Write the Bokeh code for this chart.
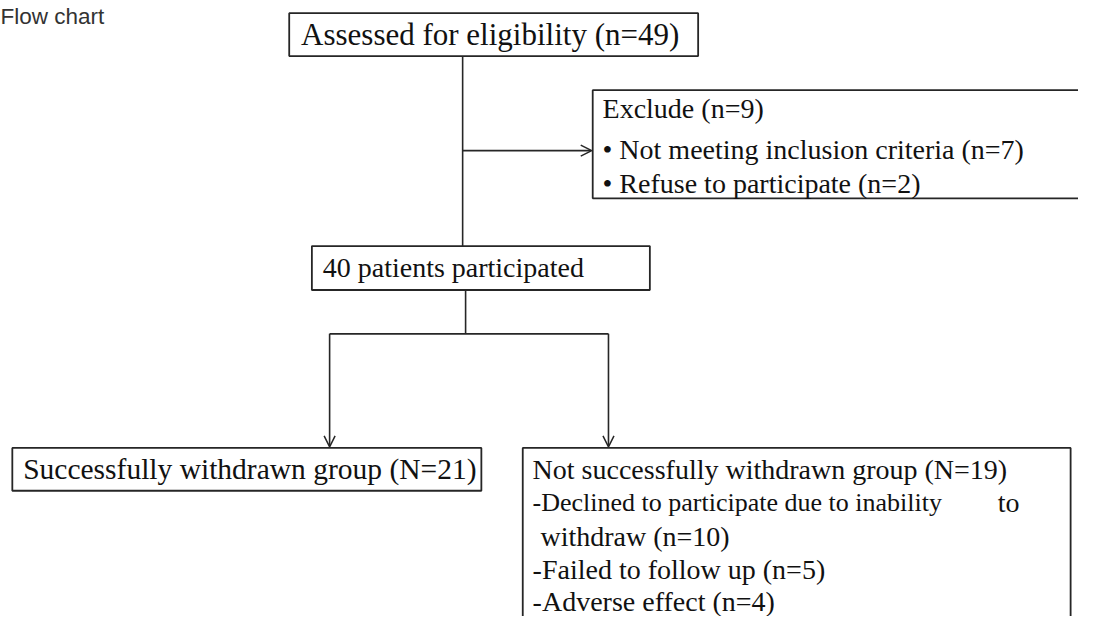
from bokeh.plotting import figure
from bokeh.models import Range1d, Arrow, OpenHead, ColumnDataSource
from bokeh.core.properties import value
from bokeh.embed import file_html
from bokeh.resources import INLINE

# ---- content ----
title_text = "Flow chart"

box_names = ["assessed", "exclude", "participated", "success", "not_success"]
box_left = [293, 601, 316, 12, 530]
box_right = [708, 1120, 659, 488, 1086]
box_top = [13, 92, 252, 459, 459]
box_bottom = [57, 203, 297, 503, 660]

text_labels = [
    "Assessed for eligibility (n=49)",
    "Exclude (n=9)",
    "\u2022 Not meeting inclusion criteria (n=7)",
    "\u2022 Refuse to participate (n=2)",
    "40 patients participated",
    "Successfully withdrawn group (N=21)",
    "Not successfully withdrawn group (N=19)",
    "-Declined to participate due to inability",
    "to",
    "withdraw (n=10)",
    "-Failed to follow up (n=5)",
    "-Adverse effect (n=4)",
]
text_x = [305, 611, 611, 611, 327, 23, 540, 540, 1012, 548, 540, 540]
text_y = [35, 111, 153, 188, 274, 481, 481, 515, 515, 550, 584, 617]
text_size = ["31px", "28px", "28px", "28px", "28px", "29.5px",
             "28px", "26px", "28px", "28px", "28px", "28px"]

# plain connector lines
line_x0 = [469, 472, 334]
line_y0 = [57, 297, 342]
line_x1 = [469, 472, 617]
line_y1 = [252, 342, 342]

# arrows
arrow_x0 = [469, 334, 617]
arrow_y0 = [154, 342, 342]
arrow_x1 = [600, 334, 617]
arrow_y1 = [154, 458, 458]

LINE_COLOR = "#262626"

p = figure(width=1078, height=616, output_backend="svg", toolbar_location=None,
           x_range=Range1d(0, 1094), y_range=Range1d(632, 0),
           min_border=0, background_fill_color="white", border_fill_color="white")
p.axis.visible = False
p.grid.visible = False
p.outline_line_color = None

p.quad(left=box_left, right=box_right, top=box_top, bottom=box_bottom,
       fill_color=None, line_color=LINE_COLOR, line_width=1.8)

p.segment(x0=line_x0, y0=line_y0, x1=line_x1, y1=line_y1,
          line_color=LINE_COLOR, line_width=1.6)

for x0, y0, x1, y1 in zip(arrow_x0, arrow_y0, arrow_x1, arrow_y1):
    p.add_layout(Arrow(end=OpenHead(size=11, line_color=LINE_COLOR, line_width=1.5),
                       x_start=x0, y_start=y0, x_end=x1, y_end=y1,
                       line_color=LINE_COLOR, line_width=1.6))

src = ColumnDataSource(dict(x=text_x, y=text_y, t=text_labels, s=text_size))
p.text(x="x", y="y", text="t", source=src, text_font=value("Liberation Serif"),
       text_font_size="s", text_baseline="middle", text_align="left",
       text_color="#111111")

p.text(x=[0], y=[16], text=[title_text], text_font=value("Liberation Sans"),
       text_font_size="22.5px", text_baseline="alphabetic", text_align="left",
       text_color="#333333")

open("out.html", "w").write(file_html(p, INLINE))
